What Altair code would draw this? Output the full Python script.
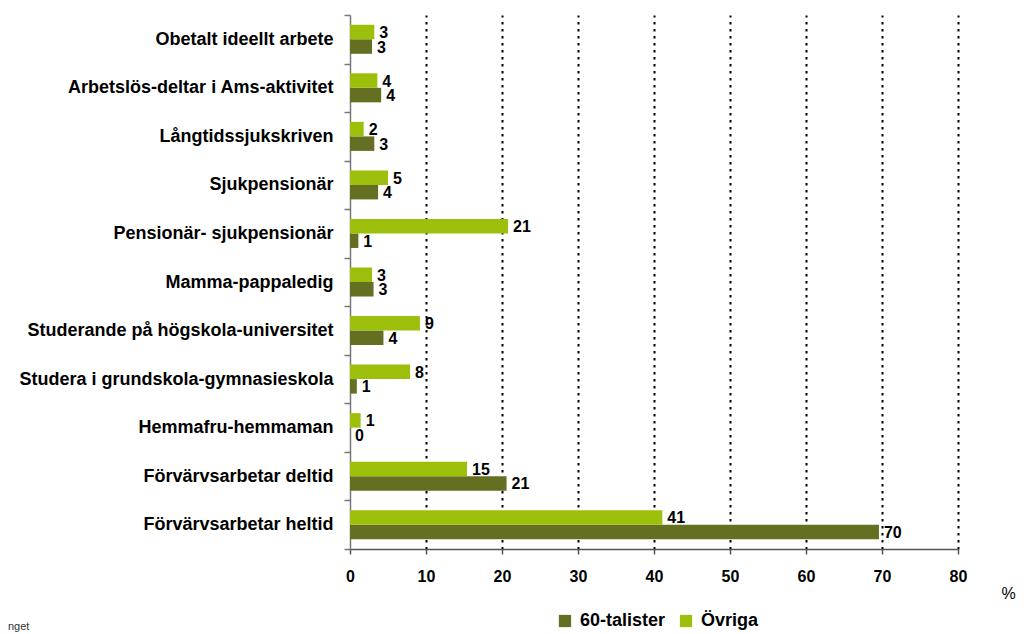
import altair as alt
import pandas as pd

categories = [
    "Obetalt ideellt arbete",
    "Arbetslös-deltar i Ams-aktivitet",
    "Långtidssjukskriven",
    "Sjukpensionär",
    "Pensionär- sjukpensionär",
    "Mamma-pappaledig",
    "Studerande på högskola-universitet",
    "Studera i grundskola-gymnasieskola",
    "Hemmafru-hemmaman",
    "Förvärvsarbetar deltid",
    "Förvärvsarbetar heltid",
]
ovriga = [3.2, 3.6, 1.8, 5.0, 20.8, 2.9, 9.2, 7.9, 1.4, 15.4, 41.1]
sextiotalister = [2.9, 4.1, 3.2, 3.7, 1.1, 3.1, 4.4, 0.9, 0.0, 20.6, 69.6]
series = ["60-talister", "Övriga"]
colors = ["#646F22", "#9BBF0B"]
x_ticks = [0, 10, 20, 30, 40, 50, 60, 70, 80]

rows = []
for c, v1, v2 in zip(categories, sextiotalister, ovriga):
    rows.append({"cat": c, "grp": "60-talister", "val": v1})
    rows.append({"cat": c, "grp": "Övriga", "val": v2})
df = pd.DataFrame(rows)

FONT = "Liberation Sans"

y_enc = alt.Y(
    "cat:N",
    sort=categories,
    scale=alt.Scale(paddingInner=0, paddingOuter=0),
    axis=alt.Axis(
        title=None,
        tickBand="extent",
        tickSize=6,
        tickColor="#777777",
        domainColor="#777777",
        domainWidth=1.5,
        tickWidth=1.5,
        labelFontSize=18,
        labelFontWeight="bold",
        labelColor="black",
        labelPadding=11,
        labelLimit=400,
    ),
)
yoff = alt.YOffset(
    "grp:N",
    sort=["Övriga", "60-talister"],
    scale=alt.Scale(paddingInner=0, paddingOuter=0.67),
)
x_enc = alt.X(
    "val:Q",
    scale=alt.Scale(domain=[0, 80], nice=False),
    axis=alt.Axis(
        values=x_ticks,
        title="%",
        titleX=658,
        titleY=44,
        titleFontSize=16,
        titleFontWeight="normal",
        titleColor="black",
        titleAlign="center",
        titleBaseline="middle",
        tickSize=5,
        tickColor="#555555",
        domainColor="#555555",
        domainWidth=1.5,
        tickWidth=1.5,
        labelFontSize=16,
        labelFontWeight="bold",
        labelColor="black",
        labelPadding=14,
        labelFlush=False,
        grid=True,
        gridColor={"condition": {"test": "datum.value === 0", "value": "transparent"}, "value": "black"},
        gridDash=[2.5, 4.5],
        gridWidth=2,
    ),
)

base = alt.Chart(df)

bars = base.mark_bar(size=14.5).encode(
    y=y_enc,
    yOffset=yoff,
    x=x_enc,
    color=alt.Color(
        "grp:N",
        scale=alt.Scale(domain=series, range=colors),
        legend=alt.Legend(
            title=None,
            orient="none",
            legendX=206,
            legendY=597,
            direction="horizontal",
            symbolType="square",
            symbolSize=150,
            symbolStrokeWidth=0,
            labelFontSize=18,
            labelFontWeight="bold",
            labelColor="black",
            columnPadding=11,
            labelOffset=6,
        ),
    ),
)

labels = base.mark_text(
    align="left", baseline="middle", dx=5, dy=1, fontSize=16, fontWeight="bold", color="black"
).encode(
    y=alt.Y("cat:N", sort=categories),
    yOffset=yoff,
    x=alt.X("val:Q"),
    text=alt.Text("val:Q", format=".0f"),
)

note = alt.Chart(pd.DataFrame({"t": ["nget"]})).mark_text(
    align="left", baseline="middle", fontSize=11, color="#333333"
).encode(
    x=alt.value(-342),
    y=alt.value(612),
    text="t:N",
)

chart = (
    alt.layer(bars, labels, note)
    .properties(
        width=608,
        height=534,
        autosize=alt.AutoSizeParams(type="none"),
        padding={"left": 342, "top": 7, "right": 58, "bottom": 84},
    )
    .configure(font=FONT)
    .configure_view(stroke=None)
)

chart.save("out.html", embed_options={"renderer": "svg", "actions": False})
